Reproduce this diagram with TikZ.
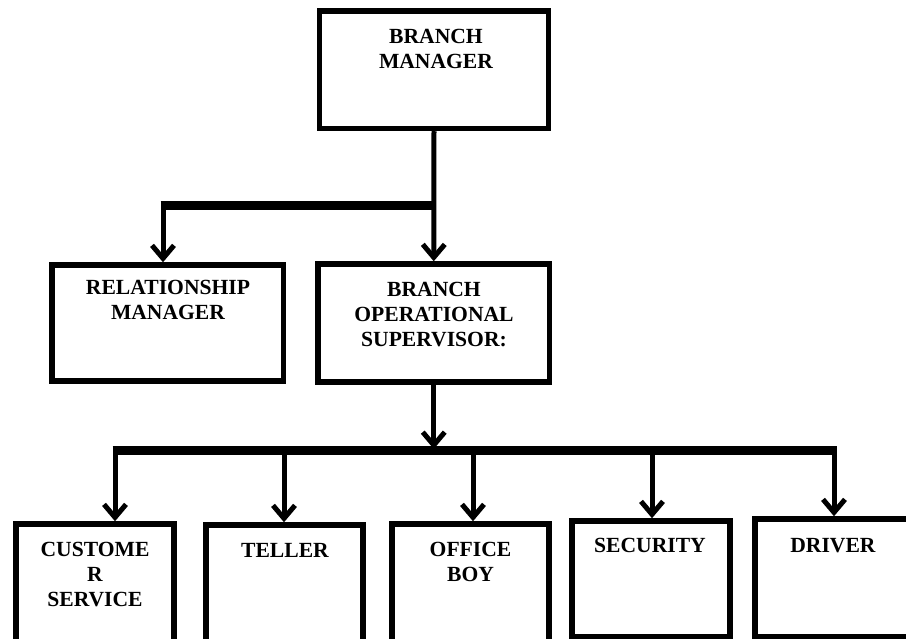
\documentclass[tikz,border=0pt]{standalone}
\usepackage{fontspec}
\setmainfont{Liberation Serif}
\usetikzlibrary{arrows.meta}
\begin{document}
\begin{tikzpicture}[x=1pt,y=-1pt,
  box/.style={draw, line width=5.5pt, inner sep=0pt, fill=white},
  conn/.style={line width=5pt, -{Straight Barb[length=13pt,width=22pt]}},
  bar/.style={line width=9pt},
  txt/.style={anchor=north, align=center, inner sep=0pt, font=\fontsize{21.6}{25}\selectfont\bfseries}]
\useasboundingbox (0,0) rectangle (906,639);
\clip (0,0) rectangle (906,639);
% boxes
\node[box, minimum width=229pt, minimum height=117.5pt] (bm) at (434,69.75) {};
\node[box, minimum width=231.5pt, minimum height=116pt] (rm) at (167.75,323) {};
\node[box, minimum width=231.5pt, minimum height=118pt] (bos) at (433.75,323) {};
\node[box, minimum width=158pt, minimum height=141pt] (cs) at (95,594.5) {};
\node[box, minimum width=157pt, minimum height=140pt] (tl) at (284.5,595) {};
\node[box, minimum width=157pt, minimum height=141pt] (ob) at (470.5,594.5) {};
\node[box, minimum width=158pt, minimum height=116pt] (sec) at (651,579) {};
\node[box, minimum width=160pt, minimum height=118pt] (dr) at (835,578) {};
% texts
\node[txt] (bmt) at (436,29) {BRANCH\\MANAGER};
\node[txt] (rmt) at (168,280) {RELATIONSHIP\\MANAGER};
\node[txt] (bost) at (434,282) {BRANCH\\OPERATIONAL\\SUPERVISOR:};
\node[txt] (cst) at (95,542) {CUSTOME\\R\\SERVICE};
\node[txt] (tlt) at (285,543) {TELLER};
\node[txt] (obt) at (470.5,542) {OFFICE\\BOY};
\node[txt] (sect) at (650,538) {SECURITY};
\node[txt] (drt) at (833,538) {DRIVER};
% top connectors
\coordinate (ja) at (160.5,206);
\coordinate (jb) at (434.5,206);
\coordinate (jr) at (163,206);
\draw[bar] (ja) -- (jb);
\draw[conn] (bm.south) -- (bos.north);
\draw[conn] (jr) -- (jr |- rm.north);
% bottom connectors
\coordinate (ka) at (112.5,450);
\coordinate (kb) at (836.5,450);
\draw[bar] (ka) -- (kb);
\draw[conn] (bos.south) -- (bos.south |- 0,449);
\coordinate (k1) at (115,450);
\coordinate (k2) at (284,450);
\coordinate (k3) at (473,450);
\coordinate (k4) at (652,450);
\coordinate (k5) at (834,450);
\draw[conn] (k1) -- (k1 |- cs.north);
\draw[conn] (k2) -- (k2 |- tl.north);
\draw[conn] (k3) -- (k3 |- ob.north);
\draw[conn] (k4) -- (k4 |- sec.north);
\draw[conn] (k5) -- (k5 |- dr.north);
\end{tikzpicture}
\end{document}
